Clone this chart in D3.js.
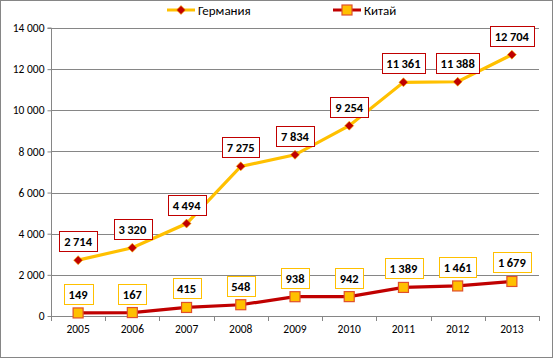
<!DOCTYPE html>
<html><head><meta charset="utf-8">
<script src="https://cdn.jsdelivr.net/npm/d3@7"></script>
<style>body{margin:0;background:#fff}svg{display:block}</style>
</head><body>
<script>
const years = ["2005","2006","2007","2008","2009","2010","2011","2012","2013"];
const germany = [2714,3320,4494,7275,7834,9254,11361,11388,12704];
const china = [149,167,415,548,938,942,1389,1461,1679];
const yTicks = [0,2000,4000,6000,8000,10000,12000,14000];
const seriesNames = ["Германия","Китай"];

const W=554,H=359;
const L=51,R=539,T=28,B=316;
const font="Calibri, Carlito, 'Open Sans', Lato, sans-serif";
const svg=d3.select("body").append("svg").attr("width",W).attr("height",H);
svg.append("rect").attr("x",0.5).attr("y",0.5).attr("width",W-2).attr("height",H-2)
  .attr("fill","#fff").attr("stroke","#868686");

const x=d3.scaleBand().domain(years).range([L,R]);
const y=d3.scaleLinear().domain([0,14000]).range([B,T]);
const fmt=v=>d3.format(",")(v).replace(/,/g,"\u2009");
const fmtT=v=>d3.format(",")(v).replace(/,/g," ");

// grid
svg.append("g").selectAll("line").data(yTicks.filter(d=>d>0)).join("line")
  .attr("x1",L).attr("x2",R).attr("y1",d=>Math.round(y(d))+0.5).attr("y2",d=>Math.round(y(d))+0.5)
  .attr("stroke","#868686");

const ya=svg.append("g").attr("transform",`translate(${L+0.5},0)`)
  .call(d3.axisLeft(y).tickValues(yTicks).tickSize(4).tickFormat(fmtT));
ya.select(".domain").attr("stroke","#868686").attr("d",`M-4,${T}H0V${B}`);
ya.selectAll(".tick line").attr("stroke","#868686");
ya.selectAll("text").attr("font-family",font).attr("font-size",11.5).attr("fill","#000").attr("x",-7);

const xa=svg.append("g").attr("transform",`translate(0,${B+0.5})`)
  .call(d3.axisBottom(x).tickSize(0));
xa.select(".domain").attr("stroke","#868686").attr("d",`M${L},0H${R}`);
xa.selectAll("text").attr("font-family",font).attr("font-size",11.5).attr("fill","#000").attr("dy","1.2em");
const bounds=years.map(d=>x(d)).concat([R]);
svg.append("g").selectAll("line").data(bounds).join("line")
  .attr("x1",d=>Math.round(d)+0.5).attr("x2",d=>Math.round(d)+0.5).attr("y1",B).attr("y2",B+5)
  .attr("stroke","#868686");

const cx=d=>x(d)+x.bandwidth()/2;
const line=d3.line().x((d,i)=>cx(years[i])).y(d=>y(d));

svg.append("path").datum(germany).attr("d",line).attr("fill","none").attr("stroke","#ffc000").attr("stroke-width",3.2);
svg.append("path").datum(china).attr("d",line).attr("fill","none").attr("stroke","#c00000").attr("stroke-width",3.2);

const diamond=(g,px,py)=>g.append("path").attr("d",`M${px},${py-4.5}L${px+4.5},${py}L${px},${py+4.5}L${px-4.5},${py}Z`)
  .attr("fill","#c00000").attr("stroke","#ffc000").attr("stroke-width",0.6);
const square=(g,px,py)=>g.append("rect").attr("x",px-5).attr("y",py-5).attr("width",10).attr("height",10)
  .attr("fill","#ffc000").attr("stroke","#e0502a").attr("stroke-width",1.2);

const gm=svg.append("g");
germany.forEach((v,i)=>diamond(gm,cx(years[i]),y(v)));
const cm=svg.append("g");
china.forEach((v,i)=>square(cm,cx(years[i]),y(v)));

function labels(data,color){
  const g=svg.append("g");
  data.forEach((v,i)=>{
    const px=cx(years[i]), py=y(v);
    const t=g.append("text").attr("x",px).attr("y",py-14).attr("text-anchor","middle")
      .attr("font-family",font).attr("font-size",12.5).attr("font-weight","bold").text(fmt(v));
    const bb=t.node().getBBox();
    const w=bb.width+9, h=20;
    g.insert("rect","text").attr("x",Math.round(px-w/2)+0.5).attr("y",Math.round(py-9-h)+0.5)
      .attr("width",Math.round(w)).attr("height",h).attr("fill","#fff").attr("stroke",color).attr("stroke-width",1);
  });
}
labels(germany,"#c00000");
labels(china,"#ffc000");

// legend
const lg=svg.append("g");
const legendItems=[{name:seriesNames[0],x:167,line:"#ffc000",mk:"d"},{name:seriesNames[1],x:333,line:"#c00000",mk:"s"}];
legendItems.forEach(it=>{
  lg.append("line").attr("x1",it.x).attr("x2",it.x+28).attr("y1",10).attr("y2",10).attr("stroke",it.line).attr("stroke-width",3);
  if(it.mk==="d") diamond(lg,it.x+14,10); else square(lg,it.x+14,10);
  lg.append("text").attr("x",it.x+31).attr("y",14.5).attr("font-family",font).attr("font-size",13).text(it.name);
});
</script>
</body></html>
